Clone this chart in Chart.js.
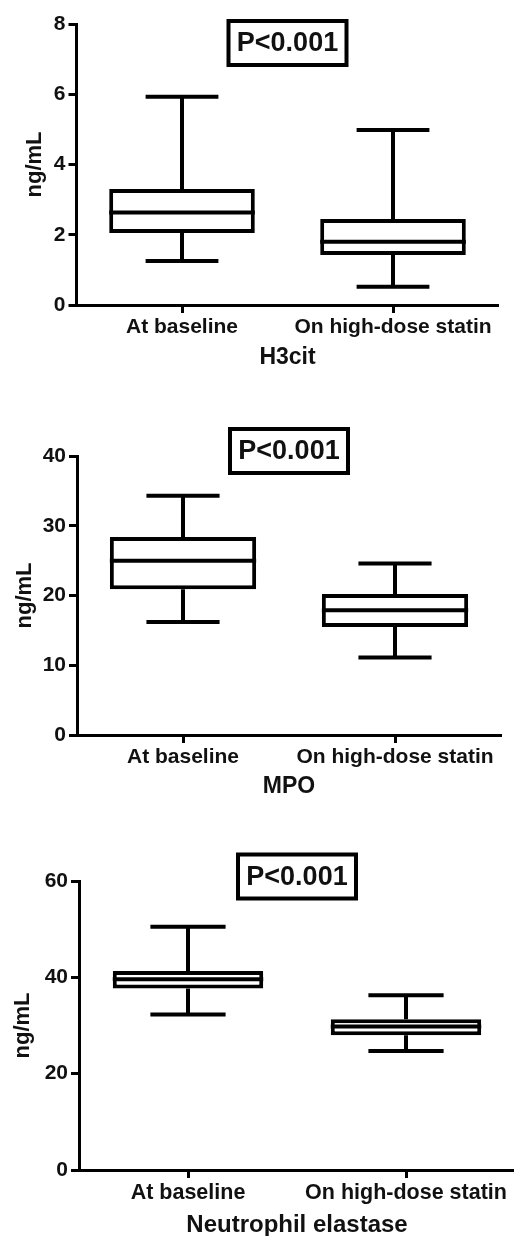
<!DOCTYPE html>
<html>
<head>
<meta charset="utf-8">
<script src="https://cdn.jsdelivr.net/npm/chart.js@4.4.1/dist/chart.umd.min.js"></script>
<style>
  html, body { margin: 0; padding: 0; background: #fff; overflow: hidden; }
  body { width: 514px; height: 1236px; position: relative; }
  .panel { position: absolute; left: 0; }
</style>
</head>
<body>
<div class="panel" style="top:0px"><canvas id="h3citChart"></canvas></div>
<div class="panel" style="top:400px"><canvas id="mpoChart"></canvas></div>
<div class="panel" style="top:820px"><canvas id="neChart"></canvas></div>

<script>
/* ==========================
   DATA
========================== */
const groups = ["At baseline", "On high-dose statin"];

// H3cit (ng/mL)
const h3citMin    = [1.25, 0.52];
const h3citQ1     = [2.05, 1.42];
const h3citMedian = [2.63, 1.80];
const h3citQ3     = [3.30, 2.45];
const h3citMax    = [5.93, 4.98];
const h3citTicks  = [0, 8, 2];   // min, max, step

// MPO (ng/mL)
const mpoMin    = [16.2, 11.1];
const mpoQ1     = [20.9, 15.5];
const mpoMedian = [25.0, 17.9];
const mpoQ3     = [28.4, 20.2];
const mpoMax    = [34.3, 24.6];
const mpoTicks  = [0, 40, 10];

// Neutrophil elastase (ng/mL)
const neMin    = [32.3, 24.7];
const neQ1     = [37.7, 28.0];
const neMedian = [39.6, 29.8];
const neQ3     = [41.3, 31.3];
const neMax    = [50.5, 36.3];
const neTicks  = [0, 60, 20];

const pLabel = "P<0.001";
const yLabel = "ng/mL";

const FONT = "'Liberation Sans', Arial, sans-serif";
const INK = "#111";

/* ==========================
   PLUGINS
========================== */
// whiskers + median line on top of the floating bars (boxes)
const whiskerPlugin = {
  id: "whiskers",
  afterDatasetsDraw(chart, args, opts) {
    const ctx = chart.ctx;
    const y = chart.scales.y;
    const bars = chart.getDatasetMeta(0).data;
    ctx.save();
    ctx.strokeStyle = "#000";
    ctx.lineWidth = opts.lineWidth;
    bars.forEach((bar, i) => {
      const half = bar.width / 2;
      const cap = half * opts.capRatio;
      const top = Math.min(bar.y, bar.base);
      const bottom = Math.max(bar.y, bar.base);
      const yMax = y.getPixelForValue(opts.max[i]);
      const yMin = y.getPixelForValue(opts.min[i]);
      const yMed = y.getPixelForValue(opts.median[i]);

      ctx.beginPath();
      // upper whisker
      ctx.moveTo(bar.x, top);
      ctx.lineTo(bar.x, yMax);
      ctx.moveTo(bar.x - cap, yMax);
      ctx.lineTo(bar.x + cap, yMax);
      // lower whisker
      ctx.moveTo(bar.x, bottom);
      ctx.lineTo(bar.x, yMin);
      ctx.moveTo(bar.x - cap, yMin);
      ctx.lineTo(bar.x + cap, yMin);
      // median
      ctx.moveTo(bar.x - half, yMed);
      ctx.lineTo(bar.x + half, yMed);
      ctx.stroke();
    });
    ctx.restore();
  }
};

// boxed p-value label
const pBoxPlugin = {
  id: "pbox",
  afterDraw(chart, args, opts) {
    const { ctx, chartArea } = chart;
    const cx = (chartArea.left + chartArea.right) / 2 + opts.dx;
    const cy = opts.y;
    const w = opts.width, h = opts.height;
    ctx.save();
    ctx.fillStyle = "#fff";
    ctx.fillRect(cx - w / 2, cy - h / 2, w, h);
    ctx.strokeStyle = "#000";
    ctx.lineWidth = 4;
    ctx.strokeRect(cx - w / 2, cy - h / 2, w, h);
    ctx.fillStyle = INK;
    ctx.font = "bold 27px " + FONT;
    ctx.textAlign = "center";
    ctx.textBaseline = "middle";
    ctx.fillText(opts.text, cx, cy + 1);
    ctx.restore();
  }
};

/* ==========================
   ONE PANEL
========================== */
function drawPanel(id, p) {
  const canvas = document.getElementById(id);
  canvas.width = p.width;
  canvas.height = p.height;
  canvas.style.width = p.width + "px";
  canvas.style.height = p.height + "px";

  const xHeight = p.xTitleAt + p.titleFont / 2;

  return new Chart(canvas, {
    type: "bar",
    data: {
      labels: groups,
      datasets: [{
        data: p.q1.map((v, i) => [v, p.q3[i]]),
        backgroundColor: "#fff",
        borderColor: "#000",
        borderWidth: 4,
        borderSkipped: false,
        barPercentage: 0.69,
        categoryPercentage: 1
      }]
    },
    options: {
      responsive: false,
      animation: false,
      layout: {
        padding: {
          left: 0,
          top: p.area.t,
          right: p.width - p.area.r,
          bottom: Math.max(0, p.height - p.area.b - xHeight)
        }
      },
      plugins: {
        legend: { display: false },
        tooltip: { enabled: false },
        whiskers: {
          min: p.min, max: p.max, median: p.median,
          lineWidth: 4, capRatio: 0.5
        },
        pbox: { text: pLabel, y: p.pY, dx: 0, width: 118, height: 44 }
      },
      scales: {
        x: {
          offset: true,
          ticks: {
            color: INK,
            font: { family: FONT, size: p.xFont, weight: "bold" },
            padding: 2,
            maxRotation: 0,
            autoSkip: false
          },
          grid: {
            display: true,
            drawOnChartArea: false,
            offset: false,
            tickLength: 8,
            tickWidth: 3,
            tickColor: "#000"
          },
          border: { color: "#000", width: 3 },
          title: {
            display: true,
            text: p.title,
            color: INK,
            font: { family: FONT, size: p.titleFont, weight: "bold", lineHeight: 1 },
            padding: 0
          },
          afterFit: s => { s.height = xHeight; }
        },
        y: {
          min: p.ticks[0],
          max: p.ticks[1],
          ticks: {
            stepSize: p.ticks[2],
            color: INK,
            font: { family: FONT, size: 21, weight: "bold" },
            padding: 3
          },
          grid: {
            display: true,
            drawOnChartArea: false,
            tickLength: 8,
            tickWidth: 3,
            tickColor: "#000"
          },
          border: { color: "#000", width: 3 },
          title: {
            display: true,
            text: yLabel,
            color: INK,
            font: { family: FONT, size: 22, weight: "bold", lineHeight: 1 },
            padding: { top: p.yTitlePad, bottom: 0 }
          },
          afterFit: s => { s.width = p.area.l; }
        }
      }
    },
    plugins: [whiskerPlugin, pBoxPlugin]
  });
}

/* ==========================
   RENDER
========================== */
drawPanel("h3citChart", {
  width: 514, height: 372,
  area: { l: 76.5, r: 498.5, t: 24, b: 305 },
  xTitleAt: 53, yTitlePad: 24, pY: 43, xFont: 21, titleFont: 23,
  title: "H3cit",
  min: h3citMin, q1: h3citQ1, median: h3citMedian, q3: h3citQ3, max: h3citMax,
  ticks: h3citTicks
});

drawPanel("mpoChart", {
  width: 514, height: 400,
  area: { l: 77, r: 501, t: 56, b: 335 },
  xTitleAt: 52, yTitlePad: 14, pY: 51, xFont: 21, titleFont: 23,
  title: "MPO",
  min: mpoMin, q1: mpoQ1, median: mpoMedian, q3: mpoQ3, max: mpoMax,
  ticks: mpoTicks
});

drawPanel("neChart", {
  width: 540, height: 418,
  area: { l: 79, r: 515, t: 61, b: 350 },
  xTitleAt: 55, yTitlePad: 12, pY: 56.5, xFont: 21.5, titleFont: 24,
  title: "Neutrophil elastase",
  min: neMin, q1: neQ1, median: neMedian, q3: neQ3, max: neMax,
  ticks: neTicks
});
</script>
</body>
</html>
